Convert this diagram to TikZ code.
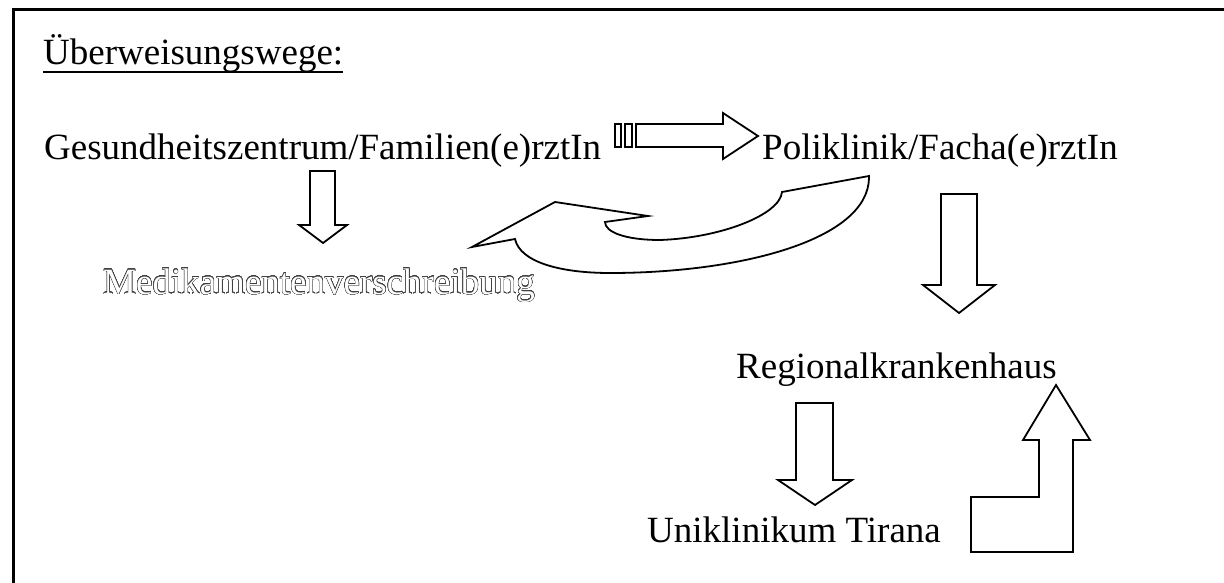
\documentclass[tikz,border=0pt]{standalone}
\usepackage{fontspec}
\setmainfont{Liberation Serif}
\usepackage[copies]{contour}
\contourlength{0.35pt}
\contournumber{32}
\usetikzlibrary{positioning}
\tikzset{
  txt/.style={anchor=base west,inner sep=0pt,font=\fontsize{37}{44}\selectfont},
  hollow/.style={draw=black,line width=1.8pt,fill=white,line join=miter},
  frame/.style={draw=black,line width=3pt}
}

\begin{document}
\begin{tikzpicture}[x=1pt,y=-1pt]
    \useasboundingbox (0,0) rectangle (1224,583);
    \clip (0,0) rectangle (1224,583);
    % frame
    \draw[frame] (13,640) -- (13,10) -- (1260,10);

    % Labels
    \node[txt] (title) at (43,65) {Überweisungswege:};
    \draw[line width=1.8pt] ([yshift=-7pt]title.base west) -- ([yshift=-7pt]title.base east);
    \node[txt] (gz) at (44,160) {Gesundheitszentrum/Familien(e)rztIn};
    \node[txt] (poli) at (762,160) {Poliklinik/Facha(e)rztIn};
    \node[txt,text=white] (medi) at (103,294) {\contour{black!75}{Medikamentenverschreibung}};
    \node[txt] (reg) at (736,378) {Regionalkrankenhaus};
    \node[txt] (uni) at (647,542) {Uniklinikum Tirana};

    % Striped arrow gz -> poli
    \draw[hollow] (615,124) rectangle (621,147);
    \draw[hollow] (625,124) rectangle (632,147);
    \draw[hollow] (636,124) -- (723,124) -- (723,113) -- (758,136)
      -- (723,159) -- (723,147) -- (636,147) -- cycle;

    % gz -> medi
    \draw[hollow] (310,171) -- (335,171) -- (335,225) -- (347,225) -- (323,243)
      -- (299,225) -- (310,225) -- cycle;

    % curved arrow poli -> medi
    \draw[hollow] (869,176) -- (782,192)
      .. controls (780,215) and (720,238) .. (660,240)
      .. controls (625,240) and (605,232) .. (605,222)
      -- (648,216) -- (555,202) -- (472,247) -- (515,239)
      .. controls (520,262) and (560,273) .. (610,273)
      .. controls (740,273) and (868,240) .. (869,178) -- cycle;

    % poli -> reg
    \draw[hollow] (941,194) -- (977,194) -- (977,285) -- (995,285) -- (959,313)
      -- (923,285) -- (941,285) -- cycle;

    % reg -> uni
    \draw[hollow] (796,403) -- (833,403) -- (833,480) -- (852,480) -- (815,505)
      -- (778,480) -- (796,480) -- cycle;

    % uni -> reg (bent)
    \draw[hollow] (971,552) -- (1073,552) -- (1073,440) -- (1090,440) -- (1056,385)
      -- (1023,440) -- (1039,440) -- (1039,497) -- (971,497) -- cycle;
\end{tikzpicture}
\end{document}
